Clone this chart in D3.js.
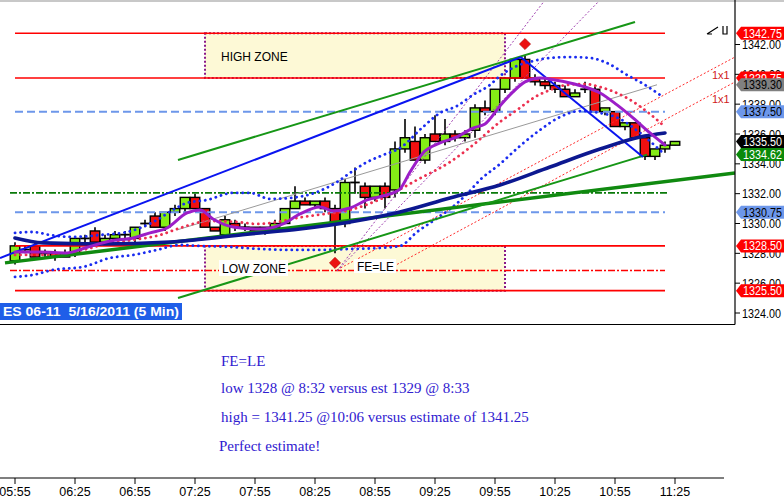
<!DOCTYPE html>
<html><head><meta charset="utf-8">
<script src="https://cdn.jsdelivr.net/npm/d3@7"></script>
<style>body{margin:0;background:#fff;}svg{display:block}</style>
</head><body>
<svg id="c" width="784" height="500"></svg>
<script>
// ---------- DATA ----------
const tickTimes = ["05:55","06:25","06:55","07:25","07:55","08:25","08:55","09:25","09:55","10:25","10:55","11:25"];
const priceTicks = [1324,1326,1328,1330,1332,1334,1336,1338,1340,1342];
const open = [1327.5,1328.25,1328.5,1328.0,1328.0,1327.75,1328.0,1329.0,1329.5,1328.75,
 1329.0,1329.25,1329.0,1330.0,1330.5,1329.75,1330.75,1331.0,1331.75,1331.0,
 1329.75,1329.25,1330.0,1329.75,1329.75,1329.5,1329.75,1330.0,1331.0,1331.5,
 1331.25,1331.5,1331.0,1330.0,1332.75,1332.5,1331.75,1332.5,1332.25,1335.0,
 1335.5,1334.25,1336.0,1335.5,1336.0,1335.75,1336.25,1337.75,1337.5,1339.0,
 1339.75,1341.0,1339.75,1339.5,1339.25,1339.0,1338.5,1339.0,1339.0,1337.5,
 1337.5,1336.5,1336.75,1335.75,1334.5,1335.0,1335.25];
const high = [1328.75,1328.5,1328.75,1328.25,1328.25,1328.25,1329.0,1329.25,1329.75,1329.25,
 1329.5,1329.5,1329.75,1330.25,1330.75,1330.75,1331.25,1331.75,1332.0,1331.0,
 1329.75,1330.5,1330.25,1330.0,1329.75,1329.75,1330.25,1331.0,1332.5,1331.75,
 1331.5,1331.75,1331.25,1333.0,1333.75,1332.75,1332.5,1332.75,1335.5,1337.0,
 1336.5,1336.0,1337.25,1337.0,1336.25,1336.25,1338.0,1338.25,1339.0,1339.75,
 1341.0,1341.25,1340.0,1339.75,1339.5,1339.25,1339.0,1339.5,1339.25,1337.75,
 1337.5,1336.75,1336.75,1335.75,1335.0,1335.5,1335.5];
const low = [1327.25,1328.0,1327.75,1327.75,1327.5,1327.75,1327.75,1328.75,1328.75,1328.5,
 1329.0,1329.0,1328.75,1329.75,1329.75,1329.5,1330.5,1330.75,1331.0,1329.75,
 1329.5,1329.25,1329.5,1329.5,1329.25,1329.25,1329.75,1330.0,1331.0,1331.25,
 1331.0,1330.75,1328.0,1329.75,1332.0,1331.0,1331.5,1331.0,1331.75,1334.75,
 1334.25,1334.0,1335.5,1335.25,1335.5,1335.5,1335.75,1337.25,1337.25,1338.75,
 1339.5,1339.75,1339.25,1339.0,1338.75,1338.5,1338.5,1338.75,1337.5,1337.25,
 1336.5,1336.25,1335.75,1334.25,1334.25,1334.75,1335.25];
const close = [1328.5,1328.25,1327.75,1328.0,1327.75,1328.0,1329.0,1329.0,1328.75,1329.0,
 1329.25,1329.25,1329.75,1330.0,1329.75,1330.75,1331.0,1331.75,1331.0,1329.75,
 1329.5,1330.25,1329.75,1329.75,1329.5,1329.75,1330.0,1331.0,1331.5,1331.25,
 1331.5,1331.0,1330.0,1332.75,1332.75,1331.75,1332.5,1331.75,1335.0,1335.75,
 1334.25,1335.75,1335.5,1336.0,1335.75,1336.0,1337.75,1337.5,1339.0,1339.75,
 1341.0,1339.75,1339.5,1339.25,1339.0,1338.5,1338.75,1339.0,1337.5,1337.75,
 1336.5,1336.75,1335.75,1334.5,1335.0,1335.25,1335.5];

// indicator curves (bar position, price)
const purpleBars = [0,2.5,5.2,7,9.5,11.8,13.5,15.2,17.2,18.5,19.8,21.8,24.5,26.8,28.5,30.5,31.8,33.5,35.2,37.5,38.5,39.5,40.8,42.5,44.2,45.8,47,48.5,49.8,51,52.5,54,55.5,57,58.5,60.2,61.8,63.5,65];
const purpleVals = [1328.09,1328.09,1328.03,1328.36,1328.83,1329.03,1329.37,1329.70,1330.71,1330.91,1330.30,1329.77,1329.63,1329.97,1330.64,1331.11,1330.84,1331.04,1331.58,1331.98,1332.31,1333.45,1334.73,1335.40,1335.80,1336.40,1336.67,1337.88,1338.82,1339.49,1339.75,1339.62,1339.42,1339.15,1338.75,1337.95,1337.08,1336.07,1335.26];
const navyBars = [0,2.8,8.5,15.5,23.5,28.5,33.5,38.5,43.5,48.5,53.5,58.5,62.5,65];
const navyVals = [1329.03,1328.70,1328.63,1328.76,1329.30,1329.63,1330.10,1330.77,1331.71,1332.58,1333.79,1334.99,1335.80,1336.07];
const upperBars = [0,1.8,3.5,5.8,8.5,11.2,12.5,14.2,15.8,17.2,19.2,21.8,23.5,25.5,27.5,30.2,32.2,33.5,35.2,36.8,38.5,40.8,42.5,44.2,45.8,47.5,48.5,50.2,51.8,53.5,55.5,57.5,59.2,61.2,63,64.8];
const upperVals = [1329.37,1329.43,1329.23,1329.10,1329.23,1329.43,1329.70,1330.24,1330.91,1331.38,1331.58,1332.05,1332.05,1331.65,1331.71,1332.11,1332.78,1333.39,1334.12,1334.59,1335.06,1336.47,1337.41,1337.88,1338.62,1339.29,1339.89,1340.56,1340.89,1341.10,1341.16,1341.10,1340.76,1339.96,1339.29,1338.48];
const lowerBars = [0,1.8,3.8,6.8,9.5,11.8,14.2,16.5,18.5,21.5,24.5,27.5,30.5,33.5,36.5,38.5,40.2,41.8,43.5,45.2,46.5,48.5,50.5,52.5,54.5,56.5,58.5,60.5,62.5,64.8];
const lowerVals = [1326.42,1326.55,1326.89,1327.09,1327.69,1327.89,1328.23,1328.56,1328.49,1328.43,1328.29,1328.23,1328.23,1328.29,1328.36,1328.49,1329.43,1330.17,1330.97,1331.98,1332.92,1333.99,1335.20,1336.27,1337.14,1337.54,1337.41,1337.01,1336.07,1334.73];
const midBars = [0,3.5,6.8,9.5,11.8,14.5,16.5,19.5,22.2,24.2,26.2,28.2,30.2,33.5,36.8,40.2,43.5,45.8,48.5,50.2,52,53.5,55.2,57,58.5,61.2,63.5,64.8];
const midVals = [1327.89,1327.89,1328.23,1328.70,1328.90,1329.23,1329.70,1330.17,1330.10,1329.97,1330.10,1330.37,1330.57,1330.91,1331.71,1332.92,1334.12,1335.26,1336.81,1337.61,1338.48,1338.95,1339.29,1339.35,1339.15,1338.41,1337.34,1336.60];

// horizontal levels
const redLevels = [1342.75,1339.75,1328.5,1325.5];
const blueDashLevels = [1337.5,1330.75];
const greenDashDotLevel = 1332.05;
const redDashDotLevel = 1326.85;
const highZone = [1342.75,1339.75];
const lowZone = [1328.5,1325.5];
const zoneBars = [19,49];

// trend lines: [bar1, price1, bar2, price2]
const blueUp = [-1.5,1327.69,50.6,1341.15];
const blueDown = [50.6,1341.15,62.8,1334.46];
const greenUpper = [16.3,1334.26,62,1343.51];
const greenLower = [16.3,1325.01,63.2,1334.62];
const greenThick = [-1,1327.36,72,1333.39];
const grayLine = [16.2,1329.57,64.2,1339.30];
const gannA = [32.2,1326.89,72,1341.16];
const gannB = [36.8,1326.75,72,1339.49];
const purpleA = [32.2,1326.82,53,1344.98];
const purpleB = [32.2,1326.82,58.5,1344.98];
const diamonds = [[32,1327.36],[51,1342.03]];

const tagVals = [1342.75,1339.75,1339.30,1337.50,1335.50,1334.62,1330.75,1328.50,1325.50];
const notes = ["FE=LE","low 1328 @ 8:32 versus est 1329 @ 8:33","high = 1341.25 @10:06 versus estimate of 1341.25","Perfect estimate!"];
const chartTitle = "ES 06-11  5/16/2011 (5 Min)";

// ---------- DRAW ----------
const svg = d3.select("#c");
const x = d3.scaleLinear().domain([0,66]).range([15,675]);
const y = d3.scaleLinear().domain([1324,1342]).range([313,44.5]);
const AX = 735, PB = 324.5;

svg.append("rect").attr("x",0).attr("y",0).attr("width",784).attr("height",500).attr("fill","#fff");
svg.append("defs").append("clipPath").attr("id","pc").append("rect")
  .attr("x",0).attr("y",0).attr("width",AX).attr("height",PB);
const g = svg.append("g").attr("clip-path","url(#pc)");

// zones
[highZone, lowZone].forEach(z=>{
  g.append("rect").attr("x",x(zoneBars[0])).attr("y",y(z[0]))
   .attr("width",x(zoneBars[1])-x(zoneBars[0])).attr("height",y(z[1])-y(z[0]))
   .attr("fill","#fdf9d6").attr("stroke","#8a1a8a").attr("stroke-width",2).attr("stroke-dasharray","2,2");
});

// candles
const bw = 9.5;
d3.range(open.length).forEach(i=>{
  const cx = x(i);
  g.append("line").attr("x1",cx).attr("x2",cx).attr("y1",y(high[i])).attr("y2",y(low[i]))
    .attr("stroke","#000").attr("stroke-width",1.6);
  if (open[i]===close[i]) {
    g.append("line").attr("x1",cx-bw/2).attr("x2",cx+bw/2).attr("y1",y(open[i])).attr("y2",y(open[i]))
      .attr("stroke","#000").attr("stroke-width",1.8);
  } else {
    const top = y(Math.max(open[i],close[i])), bot = y(Math.min(open[i],close[i]));
    g.append("rect").attr("x",cx-bw/2).attr("y",top).attr("width",bw).attr("height",Math.max(bot-top,1.5))
      .attr("fill", close[i]>open[i] ? "#84ec16" : "#f01010").attr("stroke","#000").attr("stroke-width",1.4);
  }
});

const curve = d3.line().x(d=>x(d[0])).y(d=>y(d[1])).curve(d3.curveMonotoneX);
const pairs = (b,v)=>b.map((bb,i)=>[bb,v[i]]);
function seg(a, color, w, dash){
  const l = g.append("line").attr("x1",x(a[0])).attr("y1",y(a[1])).attr("x2",x(a[2])).attr("y2",y(a[3]))
    .attr("stroke",color).attr("stroke-width",w);
  if (dash) l.attr("stroke-dasharray",dash);
  return l;
}

// horizontal levels
redLevels.forEach(v=> seg([0,v,65,v],"#ff0000",1.6));
blueDashLevels.forEach(v=> seg([0,v,65,v],"#6d97ea",2,"8,4"));
seg([-0.5,greenDashDotLevel,65.3,greenDashDotLevel],"#0a7a0a",1.6,"7,2,2,2");
seg([-0.5,redDashDotLevel,65,redDashDotLevel],"#ff0000",1.6,"7,2,2,2");

// thin lines
seg(grayLine,"#9a9a9a",1);
seg(gannA,"#ff2a2a",1,"2,2");
seg(gannB,"#ff2a2a",1,"2,2");
seg(purpleA,"#a040b0",1,"2,2");
seg(purpleB,"#a040b0",1,"2,2");

// bands
function dotted(b,v,color){
  g.append("path").attr("d",curve(pairs(b,v))).attr("fill","none").attr("stroke",color)
   .attr("stroke-width",2.8).attr("stroke-linecap","round").attr("stroke-dasharray","0.1,5.4");
}
dotted(upperBars,upperVals,"#1a2cf0");
dotted(lowerBars,lowerVals,"#1a2cf0");
dotted(midBars,midVals,"#ec3050");

// trend lines
seg(greenThick,"#108a10",3.5);
seg(greenLower,"#169616",2);
seg(greenUpper,"#169616",2);
seg(blueUp,"#0a14f0",2);
seg(blueDown,"#0a14f0",2);

// MAs
g.append("path").attr("d",curve(pairs(navyBars,navyVals))).attr("fill","none")
  .attr("stroke","#0c1890").attr("stroke-width",3.6).attr("stroke-linecap","round");
g.append("path").attr("d",curve(pairs(purpleBars,purpleVals))).attr("fill","none")
  .attr("stroke","#9c1ec8").attr("stroke-width",3).attr("stroke-linecap","round");

// diamonds
diamonds.forEach(d=>{
  g.append("path").attr("d",d3.symbol(d3.symbolSquare,62)())
    .attr("transform",`translate(${x(d[0])},${y(d[1])}) rotate(45)`)
    .attr("fill","#ec1010").attr("stroke","#b00000").attr("stroke-width",0.6);
});

// chart texts
const F = "'Liberation Sans', Arial, sans-serif";
g.append("text").attr("x",221).attr("y",61).attr("font-family",F).attr("font-size",12).text("HIGH ZONE");
g.append("rect").attr("x",219).attr("y",260).attr("width",69).attr("height",16).attr("fill","#fff");
g.append("text").attr("x",222).attr("y",273).attr("font-family",F).attr("font-size",12).text("LOW ZONE");
g.append("rect").attr("x",354).attr("y",259).attr("width",42).attr("height",14).attr("fill","#fff");
g.append("text").attr("x",357).attr("y",271).attr("font-family",F).attr("font-size",12).text("FE=LE");
g.append("text").attr("x",712).attr("y",79).attr("font-family",F).attr("font-size",11).attr("fill","#d02020").text("1x1");
g.append("text").attr("x",712).attr("y",103).attr("font-family",F).attr("font-size",11).attr("fill","#d02020").text("1x1");
g.append("path").attr("d","M707,34L718,27M707,34L712,34M723,26V34H727V26").attr("fill","none").attr("stroke","#000").attr("stroke-width",1.2);

// frame
svg.append("rect").attr("x",0).attr("y",0).attr("width",784).attr("height",2).attr("fill","#c8c8c8");
svg.append("line").attr("x1",AX).attr("x2",AX).attr("y1",0).attr("y2",PB).attr("stroke","#000").attr("stroke-width",1.2);
svg.append("line").attr("x1",0).attr("x2",AX).attr("y1",PB).attr("y2",PB).attr("stroke","#000").attr("stroke-width",1.2);

// y ticks
priceTicks.forEach(p=>{
  svg.append("line").attr("x1",AX).attr("x2",AX+5).attr("y1",y(p)).attr("y2",y(p)).attr("stroke","#000");
  svg.append("text").attr("x",AX+7).attr("y",y(p)+4.5).attr("font-family",F).attr("font-size",12)
    .attr("textLength",39).attr("lengthAdjust","spacingAndGlyphs").text(p.toFixed(2));
});
// price tags
const tagFill = ["#ff0000","#ff0000","#808080","#6d97ea","#000000","#0a8a0a","#6d97ea","#ff0000","#ff0000"];
const tagText = ["#fff","#fff","#000","#000","#fff","#fff","#000","#fff","#fff"];
tagVals.forEach((v,i)=>{
  const yy = y(v);
  svg.append("path").attr("d",`M${AX+1},${yy}L${AX+6},${yy-6.5}H784V${yy+6.5}H${AX+6}Z`).attr("fill",tagFill[i]);
  svg.append("text").attr("x",AX+8).attr("y",yy+4.5).attr("font-family",F).attr("font-size",12)
    .attr("textLength",39).attr("lengthAdjust","spacingAndGlyphs")
    .attr("fill",tagText[i]).text(v.toFixed(2));
});

// title label
svg.append("rect").attr("x",0).attr("y",303).attr("width",182).attr("height",17).attr("fill","#1f5ee8");
svg.append("text").attr("x",3).attr("y",316).attr("font-family",F).attr("font-weight","bold").attr("font-size",12)
  .style("white-space","pre").attr("xml:space","preserve")
  .attr("fill","#fff").attr("textLength",176).attr("lengthAdjust","spacingAndGlyphs").text(chartTitle);

// notes
const NB = [366,393,422,451], NX = [221,221,221,219];
notes.forEach((t,i)=> svg.append("text").attr("x",NX[i]).attr("y",NB[i])
  .attr("font-family","'Liberation Serif','Times New Roman',serif").attr("font-size",15).attr("fill","#3020d0").text(t));

// x axis
const AXY = 478;
svg.append("line").attr("x1",0).attr("x2",724).attr("y1",AXY).attr("y2",AXY).attr("stroke","#000").attr("stroke-width",1.2);
tickTimes.forEach((t,i)=>{
  const xx = x(i*6);
  svg.append("line").attr("x1",xx).attr("x2",xx).attr("y1",AXY).attr("y2",AXY+6).attr("stroke","#000");
  svg.append("text").attr("x",xx).attr("y",496).attr("text-anchor","middle")
    .attr("font-family","'Liberation Sans Narrow','Arial Narrow','Liberation Sans',sans-serif").attr("font-size",12.5).text(t);
});
</script>
</body></html>
